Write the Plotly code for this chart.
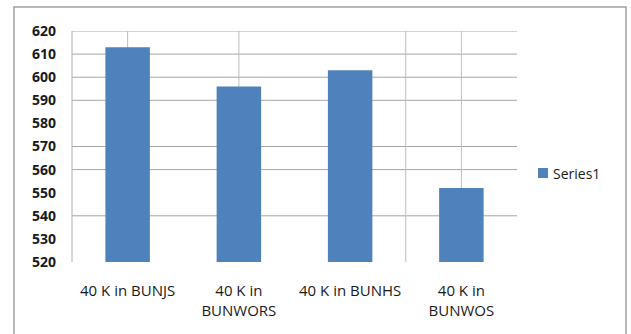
import plotly.graph_objects as go

categories = ["40 K in BUNJS", "40 K in<br>BUNWORS", "40 K in BUNHS", "40 K in<br>BUNWOS"]
values = [613, 596, 603, 552]
series_name = "Series1"
y_ticks = [520, 530, 540, 550, 560, 570, 580, 590, 600, 610, 620]
h_grid = [540, 560, 570, 590, 600, 610, 620]
v_grid = [0, 1, 2.5, 3]
y_base = 520

W, H = 631, 334
L, R, T, B = 72, 114, 31, 72
PW, PH = W - L - R, H - T - B

def px_x(p):
    return (p - L) / PW

def px_y(p):
    return (H - B - p) / PH

bar_color = "#4f81bd"

fig = go.Figure()
fig.add_trace(go.Bar(x=list(range(len(categories))), y=[v - y_base for v in values],
                     base=y_base, name=series_name,
                     marker=dict(color=bar_color, line=dict(width=0)),
                     showlegend=False))

shapes = []
for g in h_grid:
    shapes.append(dict(type="line", xref="paper", yref="y", x0=0, x1=1, y0=g, y1=g,
                       line=dict(color="#a6a6a6", width=1), layer="below"))
for v in v_grid:
    y0 = 516 if v == 2.5 else y_base
    shapes.append(dict(type="line", xref="x", yref="y", x0=v, x1=v, y0=y0, y1=620,
                       line=dict(color="#bdbdbd", width=1), layer="below"))
shapes.append(dict(type="line", xref="paper", yref="y", x0=0, x1=0, y0=517.4, y1=620,
                   line=dict(color="#b0b0b0", width=1)))
shapes.append(dict(type="rect", xref="paper", yref="paper",
                   x0=px_x(14), x1=px_x(626), y0=px_y(340), y1=px_y(7),
                   line=dict(color="#a0a0a0", width=1.5), fillcolor="rgba(0,0,0,0)"))
# legend swatch
shapes.append(dict(type="rect", xref="paper", yref="paper",
                   x0=px_x(538), x1=px_x(548), y0=px_y(178), y1=px_y(168),
                   line=dict(width=0), fillcolor=bar_color))

annotations = [dict(text=series_name, xref="paper", yref="paper", x=px_x(551), y=px_y(173),
                    xanchor="left", yanchor="middle", showarrow=False,
                    font=dict(size=14, color="#1a1a1a"))]

fig.update_layout(
    width=W, height=H,
    margin=dict(l=L, r=R, t=T, b=B),
    paper_bgcolor="white", plot_bgcolor="white",
    bargap=0.6,
    shapes=shapes,
    annotations=annotations,
    showlegend=False,
    font=dict(family="Open Sans, DejaVu Sans, sans-serif", color="#1a1a1a", size=13),
    xaxis=dict(tickmode="array", tickvals=list(range(len(categories))), ticktext=categories,
               range=[-0.5, 3.5], showgrid=False, zeroline=False, showline=False,
               ticks="", tickfont=dict(size=15), ticklabelstandoff=18),
    yaxis=dict(range=[520, 620], tickmode="array", tickvals=y_ticks,
               showgrid=False, zeroline=False, showline=False, ticks="",
               tickfont=dict(size=14, weight="bold"), ticklabelstandoff=15),
)

fig.write_html("out.html")
